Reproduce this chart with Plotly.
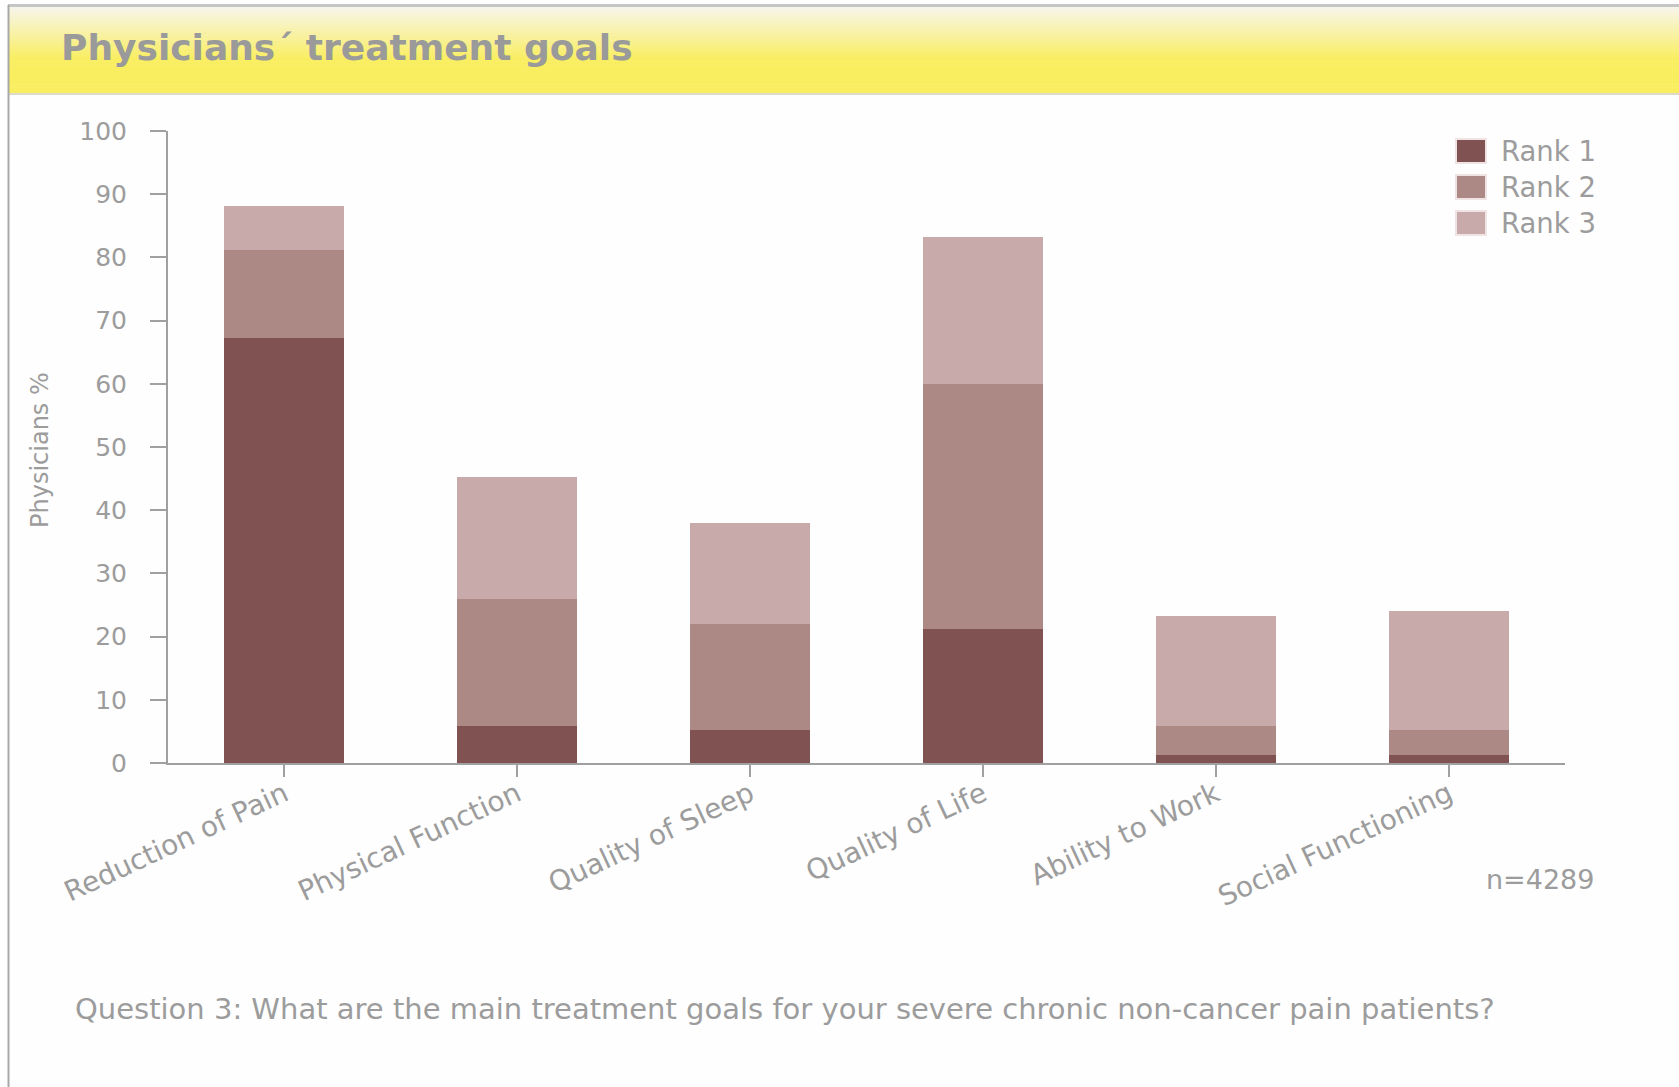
import plotly.graph_objects as go

categories = ["Reduction of Pain", "Physical Function", "Quality of Sleep",
              "Quality of Life", "Ability to Work", "Social Functioning"]
series_names = ["Rank 1", "Rank 2", "Rank 3"]
rank1 = [67.2, 5.9, 5.2, 21.2, 1.2, 1.2]
rank2 = [14.0, 20.0, 16.8, 38.7, 4.7, 4.0]
rank3 = [7.0, 19.3, 15.9, 23.3, 17.3, 18.8]
y_ticks = [0, 10, 20, 30, 40, 50, 60, 70, 80, 90, 100]

W, H = 1679, 1087
ML, MR, MT, MB = 168, 114, 131, 324
PW, PH = W - ML - MR, H - MT - MB

colors = ["#805252", "#AD8986", "#C8AAAA"]
gray = "#9C9C9C"
FONT = "DejaVu Sans, Verdana, sans-serif"


def px(x):
    return (x - ML) / PW


def py(y):
    return (H - MB - y) / PH


fig = go.Figure()
for name, vals, col in zip(series_names, [rank1, rank2, rank3], colors):
    fig.add_trace(go.Bar(x=categories, y=vals, name=name, marker_color=col,
                         marker_line_width=0, showlegend=False))

shapes = []
annotations = []

# header gradient band
top_c = (247, 245, 236)
bot_c = (249, 238, 95)
y0, y1 = 6.5, 93.0
n = 30
for i in range(n):
    ya = y0 + (y1 - y0) * i / n
    yb = y0 + (y1 - y0) * (i + 1) / n
    t = min(1.0, (i + 0.5) / (n * 0.62))
    c = tuple(int(round(top_c[k] + (bot_c[k] - top_c[k]) * t)) for k in range(3))
    shapes.append(dict(type="rect", xref="paper", yref="paper",
                       x0=px(9), x1=px(W + 5), y0=py(yb + 0.5), y1=py(ya),
                       fillcolor="rgb(%d,%d,%d)" % c, line_width=0, layer="below"))
# header borders
shapes.append(dict(type="line", xref="paper", yref="paper", x0=px(8), x1=px(W + 5),
                   y0=py(5.5), y1=py(5.5), line=dict(color="#C6C6C6", width=3)))
shapes.append(dict(type="line", xref="paper", yref="paper", x0=px(9), x1=px(W + 5),
                   y0=py(94), y1=py(94), line=dict(color="#DCDACB", width=2)))
# left frame line
shapes.append(dict(type="line", xref="paper", yref="paper", x0=px(8.5), x1=px(8.5),
                   y0=py(5), y1=py(H + 5), line=dict(color="#A8A8A8", width=2)))

# custom legend
leg_rows = [151, 187, 223]
for name, col, yc in zip(series_names, colors, leg_rows):
    shapes.append(dict(type="rect", xref="paper", yref="paper",
                       x0=px(1456), x1=px(1486), y0=py(yc + 12), y1=py(yc - 12),
                       fillcolor=col, line=dict(color="#EFE3E3", width=2)))
    annotations.append(dict(x=px(1499), y=py(yc), xref="paper", yref="paper",
                            text=name, showarrow=False, xanchor="left", yanchor="middle",
                            font=dict(family=FONT, size=27.5, color=gray)))

# title
annotations.append(dict(x=px(59), y=py(48), xref="paper", yref="paper",
                        text="<b>Physicians´ treatment goals</b>", showarrow=False,
                        xanchor="left", yanchor="middle",
                        font=dict(family=FONT, size=36, color="#9A9A9A")))
# y axis title
annotations.append(dict(x=px(40), y=py(450), xref="paper", yref="paper",
                        text="Physicians %", showarrow=False, textangle=-90,
                        xanchor="center", yanchor="middle",
                        font=dict(family=FONT, size=24, color=gray)))
# n
annotations.append(dict(x=px(1596), y=py(879), xref="paper", yref="paper",
                        text="n=4289", showarrow=False, xanchor="right", yanchor="middle",
                        font=dict(family=FONT, size=27, color=gray)))
# question
annotations.append(dict(x=px(73), y=py(1009), xref="paper", yref="paper",
                        text="Question 3: What are the main treatment goals for your severe chronic non-cancer pain patients?",
                        showarrow=False, xanchor="left", yanchor="middle",
                        font=dict(family=FONT, size=29, color=gray)))

fig.update_layout(
    width=W, height=H,
    margin=dict(l=ML, r=MR, t=MT, b=MB, autoexpand=False),
    barmode="stack", bargap=0.485,
    paper_bgcolor="#FEFEFE", plot_bgcolor="#FEFEFE",
    shapes=shapes, annotations=annotations,
    showlegend=False,
    xaxis=dict(showline=True, linecolor="#A0A0A0", linewidth=2, ticks="outside",
               ticklen=12, tickwidth=2, tickcolor="#A0A0A0", tickangle=-25,
               ticklabelstandoff=-10,
               tickfont=dict(family=FONT, size=28, color=gray), showgrid=False,
               zeroline=False),
    yaxis=dict(range=[0, 100], tickvals=y_ticks, showline=True, linecolor="#A0A0A0",
               linewidth=2, ticks="outside", ticklen=16, tickwidth=2, tickcolor="#A0A0A0",
               ticklabelstandoff=18,
               tickfont=dict(family=FONT, size=25, color=gray), showgrid=False,
               zeroline=False),
)

fig.write_html("out.html", config={"displayModeBar": False},
               post_script="document.body.style.margin='0px';")
